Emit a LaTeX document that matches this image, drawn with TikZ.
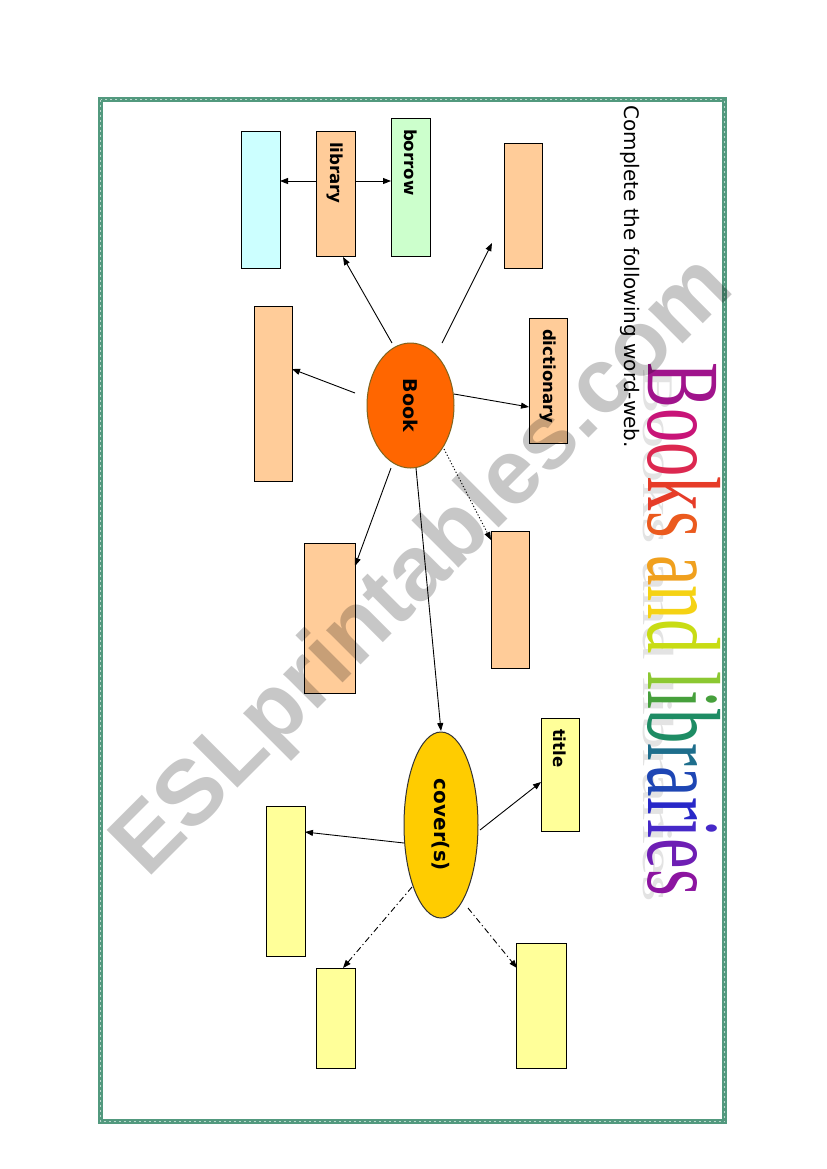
\documentclass[tikz,border=0pt]{standalone}
\usepackage{fontspec}
\setmainfont{DejaVu Sans}
\newfontfamily\ttlfont{Liberation Serif}
\newfontfamily\wmfont{Liberation Sans}
\usetikzlibrary{arrows.meta,calc,shapes.geometric}
\definecolor{peach}{HTML}{FFCC99}
\definecolor{mint}{HTML}{CCFFCC}
\definecolor{aqua}{HTML}{CCFFFF}
\definecolor{lemon}{HTML}{FFFF99}
\definecolor{bookor}{HTML}{FF6600}
\definecolor{coverye}{HTML}{FFCC00}
\definecolor{framegreen}{HTML}{52997E}
\definecolor{ta}{HTML}{A0148C}
\definecolor{tb}{HTML}{C81478}
\definecolor{tc}{HTML}{DC2850}
\definecolor{td}{HTML}{E63C28}
\definecolor{te}{HTML}{EB5A1E}
\definecolor{tf}{HTML}{F0A01E}
\definecolor{tg}{HTML}{F5D214}
\definecolor{th}{HTML}{C8DC14}
\definecolor{ti}{HTML}{8CC832}
\definecolor{tj}{HTML}{46A03C}
\definecolor{tk}{HTML}{1E8C64}
\definecolor{tl}{HTML}{1E6E8C}
\definecolor{tm}{HTML}{1E46B4}
\definecolor{tn}{HTML}{2828C8}
\definecolor{to}{HTML}{4628C8}
\definecolor{tp}{HTML}{6E1EB4}
\definecolor{tq}{HTML}{8C14A0}
\newcommand\ttltext{%
\textcolor{ta}{B}\textcolor{tb}{o}\textcolor{tc}{o}\textcolor{td}{k}\textcolor{te}{s} %
\textcolor{tf}{a}\textcolor{tg}{n}\textcolor{th}{d} %
\textcolor{ti}{l}\textcolor{tj}{i}\textcolor{tk}{b}\textcolor{tl}{r}\textcolor{tm}{a}\textcolor{tn}{r}\textcolor{to}{i}\textcolor{tp}{e}\textcolor{tq}{s}}
\begin{document}
\begin{tikzpicture}[x=0.5pt,y=-0.5pt,
  box/.style={draw=black,line width=0.5pt,rotate=-90,inner sep=0pt},
  sz/.style 2 args={minimum width=#2*0.5pt,minimum height=#1*0.5pt},
  lbl/.style={align=left,inner xsep=5.5pt,text width=#1,font=\bfseries\fontsize{8.3}{10}\selectfont},
  conn/.style={-{Triangle[length=4pt,width=3pt]},line width=0.45pt},
  dotline/.style={conn,dash pattern=on 0.6pt off 1pt},
  dashline/.style={conn,dash pattern=on 3pt off 1.5pt on 0.6pt off 1.5pt}]
\useasboundingbox[fill=white] (0,0) rectangle (826,1169);
% frame
\draw[framegreen,line width=2.6pt] (100.5,99.5) rectangle (724.5,1121.5);
\draw[white,line width=0.5pt,dash pattern=on 1pt off 1.5pt,opacity=0.6] (100.5,99.5) rectangle (724.5,1121.5);
% title with shadow
\node[rotate=-90,anchor=base west,inner sep=0pt,text=gray!22] (ttlshadow) at (643,368)
  {\ttlfont\fontsize{52}{52}\selectfont\scalebox{0.66}[0.42]{Books and libraries}};
\node[rotate=-90,anchor=base west,inner sep=0pt] (ttl) at (648,362)
  {\ttlfont\fontsize{52}{52}\selectfont\scalebox{0.66}[1]{\ttltext}};
\node[rotate=-90,anchor=north west,inner sep=0pt,font=\fontsize{10}{12}\selectfont] (instr) at (640,105)
  {Complete the following word-web.};
% boxes
\node[box,fill=aqua,sz={39}{137}] (cyan) at (260.5,199.5) {};
\node[box,fill=peach,sz={39}{125},lbl=51.5pt] (lib) at (335.5,193.5) {library};
\node[box,fill=mint,sz={39}{138},lbl=58pt] (borrow) at (410.5,187) {borrow};
\node[box,fill=peach,sz={38}{125}] (pka) at (523,205.5) {};
\node[box,fill=peach,sz={38}{125},lbl=51.5pt] (dict) at (548,380.5) {dictionary};
\node[box,fill=peach,sz={38}{175}] (pkb) at (273,393.5) {};
\node[box,fill=peach,sz={51}{150}] (pkc) at (329.5,618) {};
\node[box,fill=peach,sz={38}{137}] (pkd) at (510,599.5) {};
\node[box,fill=lemon,sz={38}{113},lbl=45.5pt] (title) at (560,774.5) {title};
\node[box,fill=lemon,sz={39}{150}] (ya) at (285.5,881) {};
\node[box,fill=lemon,sz={39}{100}] (yb) at (335.5,1018) {};
\node[box,fill=lemon,sz={50}{125}] (yc) at (541,1005.5) {};
% ellipses
\node[ellipse,rotate=-90,fill=bookor,draw={rgb,255:red,128;green,100;blue,30},line width=0.5pt,inner sep=0pt,
  minimum width=62.5pt,minimum height=43.5pt,font=\bfseries\fontsize{9.5}{11}\selectfont] (book) at (410.5,405.5) {Book};
\node[ellipse,rotate=-90,fill=coverye,draw=black!80,line width=0.5pt,inner sep=0pt,
  minimum width=93pt,minimum height=37pt,font=\bfseries\fontsize{10}{12}\selectfont] (cover) at (441,825) {cover(s)};
% connectors
\draw[conn] ($(lib)+(-19.5,-12.5)$) -- ($(cyan)+(19.5,-18.5)$);
\draw[conn] ($(lib)+(19.5,-12.5)$) -- ($(borrow)+(-19.5,-6)$);
\draw[conn] ($(book)+(-18.5,-62.5)$) -- ($(lib)+(7.5,63.5)$);
\draw[conn] ($(book)+(31.5,-62.5)$) -- ($(pka)+(-31,37.5)$);
\draw[conn] ($(book)+(-55.5,-12.5)$) -- ($(pkb)+(19,-24.5)$);
\draw[conn] ($(book)+(43.5,-11.5)$) -- ($(dict)+(-19,26.5)$);
\draw[conn] ($(book)+(-19.5,62.5)$) -- ($(pkc)+(25.5,-52)$);
\draw[dotline] ($(book)+(33.5,43.5)$) -- ($(pkd)+(-19,-59.5)$);
\draw[conn] ($(book)+(5.5,62.5)$) -- ($(cover)+(0,-94)$);
\draw[conn] ($(cover)+(39,5)$) -- ($(title)+(-19,7.5)$);
\draw[conn] ($(cover)+(-37,18)$) -- ($(ya)+(19.5,-49)$);
\draw[dashline] ($(cover)+(-29,62)$) -- ($(yb)+(7.5,-50)$);
\draw[dashline] ($(cover)+(27,83)$) -- ($(yc)+(-24,-37.5)$);
% watermark
\node[rotate=45,text=black,opacity=0.22,inner sep=0pt,font=\wmfont\bfseries\fontsize{46}{46}\selectfont] (wm) at (425,568) {ESLprintables.com};
\end{tikzpicture}
\end{document}
